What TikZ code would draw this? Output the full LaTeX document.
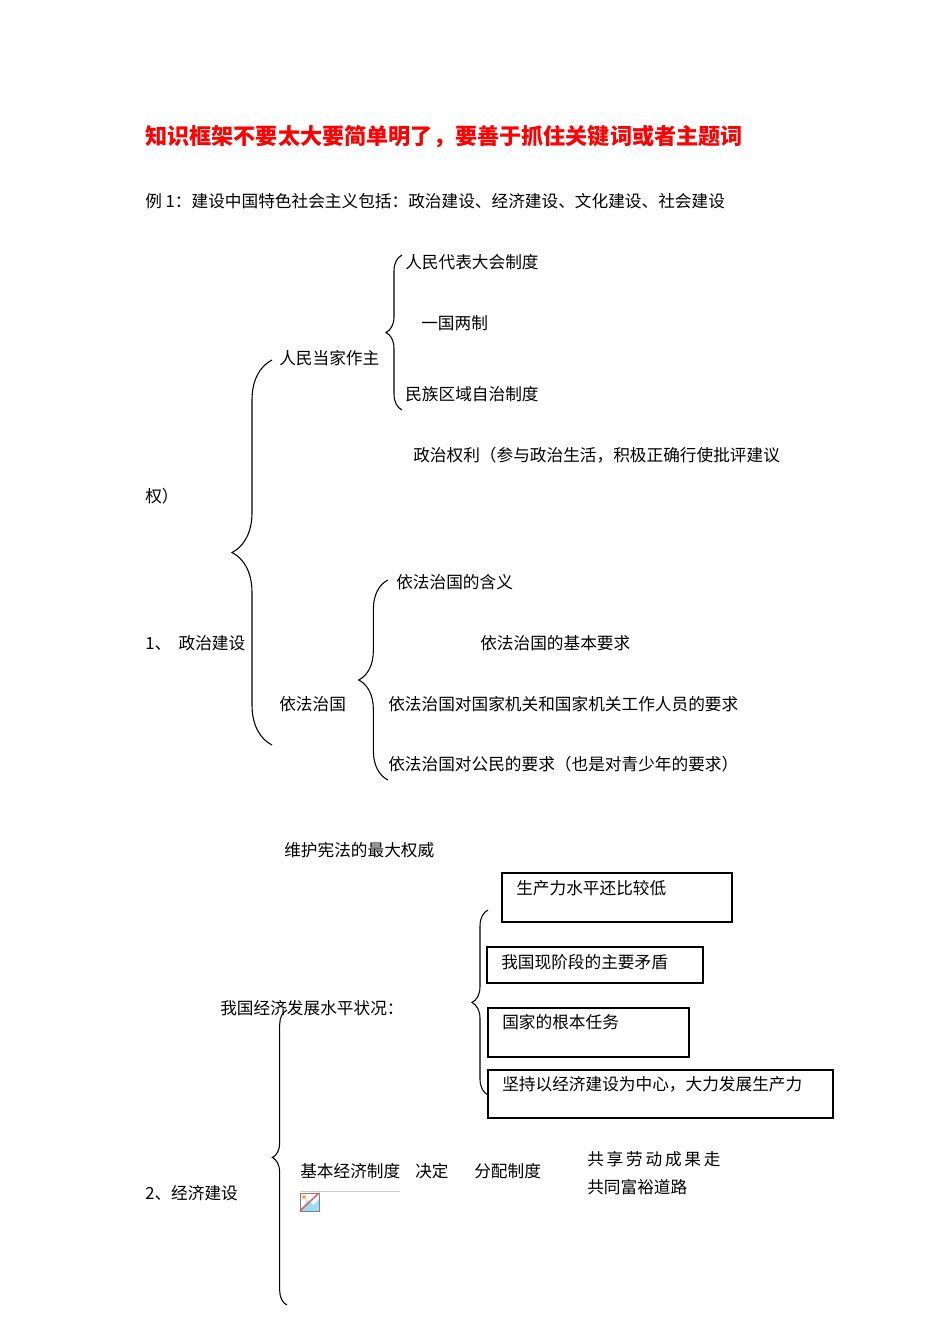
\documentclass[tikz,border=0pt]{standalone}
\usepackage{fontspec}
\setmainfont{Noto Sans CJK SC}
\usetikzlibrary{decorations.pathreplacing}
\begin{document}
\begin{tikzpicture}[x=0.75pt,y=-0.75pt,
  txt/.style={anchor=west,inner sep=0,font=\fontsize{12.5}{14}\selectfont},
  brc/.style={decorate,decoration={brace,amplitude=#1},line width=0.8pt},
  bx/.style={draw,line width=0.8pt}]
\useasboundingbox (0,0) rectangle (950,1344);
\node[anchor=west,inner sep=0,text=red,font=\fontsize{16.6}{18}\selectfont\bfseries] (title) at (145,137) {知识框架不要太大要简单明了，要善于抓住关键词或者主题词};
\node[txt] (ex) at (145,201) {例 1：建设中国特色社会主义包括：政治建设、经济建设、文化建设、社会建设};
\node[txt] (a1) at (405,262) {人民代表大会制度};
\node[txt] (a2) at (421,323) {一国两制};
\node[txt] (a) at (279,358) {人民当家作主};
\node[txt] (a3) at (405,394) {民族区域自治制度};
\node[txt] (pr) at (413,455) {政治权利（参与政治生活，积极正确行使批评建议};
\node[txt] (pr2) at (145,496) {权）};
\node[txt] (b1) at (396,582) {依法治国的含义};
\node[txt] (b2) at (480,643) {依法治国的基本要求};
\node[txt] (p1) at (145,643) {1、\ \ 政治建设};
\node[txt] (b) at (279,704) {依法治国};
\node[txt] (b3) at (388,704) {依法治国对国家机关和国家机关工作人员的要求};
\node[txt] (b4) at (388,764) {依法治国对公民的要求（也是对青少年的要求）};
\node[txt] (wh) at (284,850) {维护宪法的最大权威};
\node[txt] (ec) at (220,1008) {我国经济发展水平状况：};
\node[txt] (p2) at (145,1193) {2、经济建设};
\node[txt] (jb) at (300,1171) {基本经济制度};
\node[txt] (jd) at (415,1171) {决定};
\node[txt] (fp) at (474,1171) {分配制度};
\node[txt] (gx1) at (587,1159) {共\,享\,劳\,动\,成\,果\,走};
\node[txt] (gx2) at (587,1187) {共同富裕道路};
% braces
\draw[brc=12pt] (402,410) -- (402,255);
\draw[brc=30pt] (272,745) -- (272,360);
\draw[brc=22pt] (388,780) -- (388,580);
\draw[brc=12pt] (488,1095) -- (488,910);
\draw[brc=11pt] (287,1305) -- (287,1010);
% boxes
\draw[bx] (502,873) rectangle (732,922);
\node[txt] (c1) at (516,888) {生产力水平还比较低};
\draw[bx] (487,947) rectangle (703,983);
\node[txt] (c2) at (501,962) {我国现阶段的主要矛盾};
\draw[bx] (488,1008) rectangle (689,1057);
\node[txt] (c3) at (502,1022) {国家的根本任务};
\draw[bx] (488,1070) rectangle (833,1118);
\node[txt] (c4) at (502,1084) {坚持以经济建设为中心，大力发展生产力};
% broken image icon
\draw[gray!40] (300,1191) -- (400,1191);
\fill[cyan!40] (300,1210) -- (308,1200) -- (314,1205) -- (319,1199) -- (319,1211) -- (300,1211) -- cycle;
\draw[gray] (300,1193) rectangle (319,1211);
\fill[orange!70] (304,1197) circle (2);
\draw[red!70,line width=1pt] (300,1211) -- (319,1193);
\end{tikzpicture}
\end{document}
